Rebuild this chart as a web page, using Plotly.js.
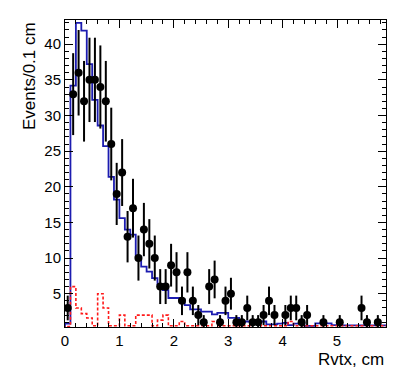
<!DOCTYPE html>
<html>
<head>
<meta charset="utf-8">
<script src="https://cdn.plot.ly/plotly-3.0.1.min.js"></script>
<style>
  html, body { margin: 0; padding: 0; background: #fff; }
  #chart { width: 407px; height: 391px; }
</style>
</head>
<body>
<div id="chart"></div>
<script>
// Histogram binning (cm)
const binWidth = 0.1;
const xMax = 5.9;

// Data points: bin centres and event counts
const dataX = [0.05, 0.15, 0.25, 0.35, 0.45, 0.55, 0.65, 0.75, 0.85, 0.95,
               1.05, 1.15, 1.25, 1.35, 1.45, 1.55, 1.65, 1.75, 1.85, 1.95,
               2.05, 2.15, 2.25, 2.35, 2.45, 2.55, 2.65, 2.75, 2.85, 2.95,
               3.05, 3.15, 3.25, 3.35, 3.45, 3.55, 3.65, 3.75, 3.85,
               4.05, 4.15, 4.25, 4.35, 4.45, 4.75, 5.05, 5.45, 5.55, 5.75];
const dataY = [3, 33, 36, 32, 35, 35, 34, 32, 26, 19,
               22, 13, 17, 10, 14, 12, 10, 6, 6, 9,
               8, 4, 8, 4, 2, 1, 6, 7, 1, 4,
               5, 1, 1, 3, 1, 1, 2, 4, 2,
               2, 3, 3, 1, 2, 1, 1, 3, 1, 1];

// Blue (solid) histogram, one value per 0.1 cm bin starting at 0
const blueHist = [0.8, 34.2, 43.0, 41.9, 37.2, 32.2, 28.6, 25.7, 21.4, 18.2,
                  15.6, 14.0, 13.3, 10.2, 8.8, 8.1, 7.2, 6.3, 5.5, 4.4,
                  4.4, 4.2, 3.4, 2.8, 2.8, 2.5, 2.5, 2.1, 2.3, 2.3,
                  1.6, 1.6, 1.1, 1.1, 1.1, 1.1, 1.1, 0.7, 0.7, 0.8,
                  0.9, 0.6, 0.8, 0.8, 0.5, 0.5, 0.85, 0.85, 0.85, 0.6,
                  0.6, 0.55, 0.55, 0.55, 0.55, 0.55, 0.55, 0.55, 0.55];

// Red (dashed) histogram
const redHist = [0.4, 6.0, 3.0, 2.2, 1.6, 0.5, 5.0, 3.0, 0.5, 0.5,
                 2.0, 0.5, 0.5, 2.0, 2.0, 2.0, 0.5, 1.3, 2.0, 0.5,
                 0.5, 1.1, 0.5, 0.5, 0.5, 0.5, 0.5, 1.1, 0.5, 0.5,
                 0.5, 0.5, 0.5, 0.5, 1.1, 1.1, 0.5, 0.5, 0.5, 0.5,
                 0.5, 1.1, 0.5, 0.5, 0.5, 0.5, 0.5, 0.5, 0.5, 0.5,
                 0.5, 0.5, 0.5, 0.5, 0.5, 0.5, 0.5, 0.5, 0.5];

// Turn bin contents into a step outline (left edges + closing right edge)
function stepTrace(values, color, dash) {
  const xs = [0];
  const ys = [0];
  values.forEach((v, i) => {
    xs.push(i * binWidth);
    ys.push(v);
  });
  xs.push(values.length * binWidth);
  ys.push(values[values.length - 1]);
  return {
    x: xs, y: ys, mode: 'lines', type: 'scatter',
    line: { shape: 'hv', color: color, width: dash ? 1.6 : 1.8, dash: dash || 'solid' },
    hoverinfo: 'skip'
  };
}

const traceBlue = stepTrace(blueHist, '#1c1cb0');
const traceRed = stepTrace(redHist, '#ff1a1a', '3px,2px');

const tracePoints = {
  x: dataX, y: dataY, mode: 'markers', type: 'scatter',
  marker: { color: 'black', size: 8, symbol: 'circle' },
  error_y: { type: 'sqrt', visible: true, width: 0, thickness: 2, color: 'black' }
};

const tickFont = { family: 'Liberation Sans, Arial, sans-serif', size: 15, color: 'black' };

const layout = {
  width: 407, height: 391,
  margin: { l: 65, r: 21, t: 20, b: 64 },
  paper_bgcolor: 'white', plot_bgcolor: 'white',
  showlegend: false,
  xaxis: {
    range: [0, xMax], dtick: 1, tick0: 0,
    ticks: 'inside', ticklen: 8, tickwidth: 1, tickcolor: 'black',
    minor: { dtick: 0.2, ticks: 'inside', ticklen: 4, tickcolor: 'black' },
    showline: true, linecolor: 'black', linewidth: 1, mirror: 'ticks',
    showgrid: false, zeroline: false, tickfont: tickFont
  },
  yaxis: {
    range: [0.33, 43.4], dtick: 5, tick0: 0,
    ticks: 'inside', ticklen: 8, tickwidth: 1, tickcolor: 'black',
    minor: { dtick: 1, ticks: 'inside', ticklen: 4, tickcolor: 'black' },
    showline: true, linecolor: 'black', linewidth: 1, mirror: 'ticks',
    showgrid: false, zeroline: false, tickfont: tickFont
  },
  // ROOT-style titles pinned to the axis ends
  annotations: [
    { text: 'Rvtx, cm', xref: 'paper', yref: 'paper', x: 1, y: -0.107,
      xanchor: 'right', yanchor: 'middle', showarrow: false,
      font: { family: 'Liberation Sans, Arial, sans-serif', size: 17, color: 'black' } },
    { text: 'Events/0.1 cm', xref: 'paper', yref: 'paper', x: -0.112, y: 1,
      xanchor: 'center', yanchor: 'top', textangle: -90, showarrow: false,
      font: { family: 'Liberation Sans, Arial, sans-serif', size: 17, color: 'black' } }
  ]
};

Plotly.newPlot('chart', [traceBlue, traceRed, tracePoints], layout, { staticPlot: true });
</script>
</body>
</html>
